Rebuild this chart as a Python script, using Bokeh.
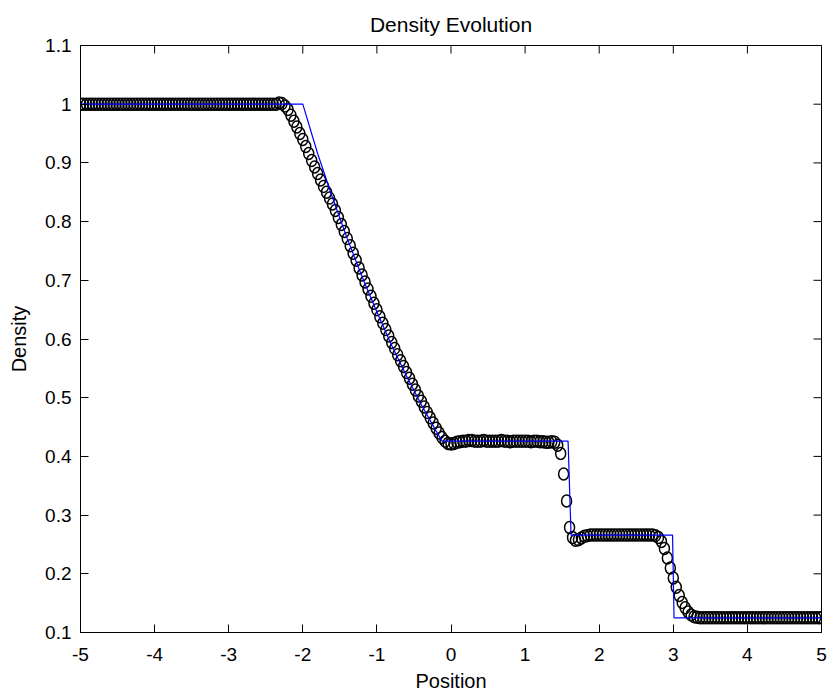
from bokeh.plotting import figure
from bokeh.models import Range1d, FixedTicker, CustomJSTickFormatter, ColumnDataSource
from bokeh.embed import file_html
from bokeh.resources import INLINE
import math

# numerical solution (circles)
pos_x = [
    -5.00, -4.96, -4.92, -4.88, -4.84, -4.80, -4.76, -4.72, -4.68, -4.64,
    -4.60, -4.56, -4.52, -4.48, -4.44, -4.40, -4.36, -4.32, -4.28, -4.24,
    -4.20, -4.16, -4.12, -4.08, -4.04, -4.00, -3.96, -3.92, -3.88, -3.84,
    -3.80, -3.76, -3.72, -3.68, -3.64, -3.60, -3.56, -3.52, -3.48, -3.44,
    -3.40, -3.36, -3.32, -3.28, -3.24, -3.20, -3.16, -3.12, -3.08, -3.04,
    -3.00, -2.96, -2.92, -2.88, -2.84, -2.80, -2.76, -2.72, -2.68, -2.64,
    -2.60, -2.56, -2.52, -2.48, -2.44, -2.40, -2.36, -2.32, -2.28, -2.24,
    -2.20, -2.16, -2.12, -2.08, -2.04, -2.00, -1.96, -1.92, -1.88, -1.84,
    -1.80, -1.76, -1.72, -1.68, -1.64, -1.60, -1.56, -1.52, -1.48, -1.44,
    -1.40, -1.36, -1.32, -1.28, -1.24, -1.20, -1.16, -1.12, -1.08, -1.04,
    -1.00, -0.96, -0.92, -0.88, -0.84, -0.80, -0.76, -0.72, -0.68, -0.64,
    -0.60, -0.56, -0.52, -0.48, -0.44, -0.40, -0.36, -0.32, -0.28, -0.24,
    -0.20, -0.16, -0.12, -0.08, -0.04, 0.00, 0.04, 0.08, 0.12, 0.16,
    0.20, 0.24, 0.28, 0.32, 0.36, 0.40, 0.44, 0.48, 0.52, 0.56,
    0.60, 0.64, 0.68, 0.72, 0.76, 0.80, 0.84, 0.88, 0.92, 0.96,
    1.00, 1.04, 1.08, 1.12, 1.16, 1.20, 1.24, 1.28, 1.32, 1.36,
    1.40, 1.44, 1.48, 1.52, 1.56, 1.60, 1.64, 1.68, 1.72, 1.76,
    1.80, 1.84, 1.88, 1.92, 1.96, 2.00, 2.04, 2.08, 2.12, 2.16,
    2.20, 2.24, 2.28, 2.32, 2.36, 2.40, 2.44, 2.48, 2.52, 2.56,
    2.60, 2.64, 2.68, 2.72, 2.76, 2.80, 2.84, 2.88, 2.92, 2.96,
    3.00, 3.04, 3.08, 3.12, 3.16, 3.20, 3.24, 3.28, 3.32, 3.36,
    3.40, 3.44, 3.48, 3.52, 3.56, 3.60, 3.64, 3.68, 3.72, 3.76,
    3.80, 3.84, 3.88, 3.92, 3.96, 4.00, 4.04, 4.08, 4.12, 4.16,
    4.20, 4.24, 4.28, 4.32, 4.36, 4.40, 4.44, 4.48, 4.52, 4.56,
    4.60, 4.64, 4.68, 4.72, 4.76, 4.80, 4.84, 4.88, 4.92, 4.96,
    5.00,
]
density = [
    1.0, 1.0, 1.0, 1.0, 1.0, 1.0, 1.0, 1.0, 1.0, 1.0,
    1.0, 1.0, 1.0, 1.0, 1.0, 1.0, 1.0, 1.0, 1.0, 1.0,
    1.0, 1.0, 1.0, 1.0, 1.0, 1.0, 1.0, 1.0, 1.0, 1.0,
    1.0, 1.0, 1.0, 1.0, 1.0, 1.0, 1.0, 1.0, 1.0, 1.0,
    1.0, 1.0, 1.0, 1.0, 1.0, 1.0, 1.0, 1.0, 1.0, 1.0,
    1.0, 1.0, 1.0, 1.0, 1.0, 1.0, 1.0, 1.0, 1.0, 1.0,
    1.0, 1.0, 1.0, 1.0, 1.0, 1.0, 1.0, 1.002, 1.001, 0.997,
    0.991, 0.981, 0.971, 0.961, 0.950, 0.940, 0.928, 0.916, 0.904, 0.893,
    0.882, 0.871, 0.860, 0.850, 0.840, 0.830, 0.819, 0.807, 0.795, 0.783,
    0.771, 0.759, 0.746, 0.734, 0.721, 0.709, 0.697, 0.685, 0.673, 0.661,
    0.650, 0.638, 0.627, 0.616, 0.605, 0.594, 0.584, 0.573, 0.563, 0.553,
    0.543, 0.533, 0.523, 0.513, 0.503, 0.494, 0.484, 0.475, 0.466, 0.457,
    0.448, 0.440, 0.432, 0.426, 0.422, 0.421, 0.422, 0.424, 0.425, 0.426,
    0.426, 0.427, 0.427, 0.426, 0.426, 0.426, 0.427, 0.426, 0.426, 0.426,
    0.426, 0.426, 0.427, 0.426, 0.426, 0.425, 0.426, 0.426, 0.426, 0.426,
    0.426, 0.426, 0.425, 0.426, 0.426, 0.425, 0.425, 0.424, 0.424, 0.425,
    0.424, 0.419, 0.405, 0.370, 0.324, 0.279, 0.262, 0.257, 0.258, 0.261,
    0.264, 0.265, 0.266, 0.266, 0.266, 0.266, 0.266, 0.266, 0.266, 0.266,
    0.266, 0.266, 0.266, 0.266, 0.266, 0.266, 0.266, 0.266, 0.266, 0.266,
    0.266, 0.266, 0.266, 0.266, 0.265, 0.262, 0.255, 0.243, 0.227, 0.210,
    0.193, 0.177, 0.163, 0.151, 0.142, 0.135, 0.130, 0.127, 0.126, 0.125,
    0.125, 0.125, 0.125, 0.125, 0.125, 0.125, 0.125, 0.125, 0.125, 0.125,
    0.125, 0.125, 0.125, 0.125, 0.125, 0.125, 0.125, 0.125, 0.125, 0.125,
    0.125, 0.125, 0.125, 0.125, 0.125, 0.125, 0.125, 0.125, 0.125, 0.125,
    0.125, 0.125, 0.125, 0.125, 0.125, 0.125, 0.125, 0.125, 0.125, 0.125,
    0.125,
]

# exact solution (blue line)
exact_x = [-5.0, -2.0, -1.8, -1.6, -1.4, -1.2, -1.0, -0.8, -0.6, -0.4, -0.2,
           -0.12, 1.58, 1.62, 2.99, 3.01, 5.0]
exact_rho = [1.0, 1.0, 0.916, 0.841, 0.771, 0.706, 0.646, 0.589, 0.537, 0.488,
             0.443, 0.426, 0.426, 0.266, 0.266, 0.125, 0.125]

x_ticks = [-5, -4, -3, -2, -1, 0, 1, 2, 3, 4, 5]
y_ticks = [0.1, 0.2, 0.3, 0.4, 0.5, 0.6, 0.7, 0.8, 0.9, 1.0, 1.1]
x_lo, x_hi = -5, 5
y_lo, y_hi = 0.1, 1.1

FONT = "Liberation Sans"

p = figure(width=827, height=698, output_backend="svg", toolbar_location=None,
           x_range=Range1d(x_lo, x_hi), y_range=Range1d(y_lo, y_hi),
           min_border_left=80, min_border_right=6, min_border_top=45,
           min_border_bottom=66)
p.grid.visible = False
p.outline_line_color = "black"
p.outline_line_width = 1
p.background_fill_color = "white"
p.border_fill_color = "white"

p.title.text = "Density Evolution"
p.title.align = "center"
p.title.text_font = FONT
p.title.text_font_size = "21px"
p.title.text_font_style = "normal"
p.title.text_color = "black"
p.title.standoff = 20

fmt_x = CustomJSTickFormatter(code="return Math.round(tick).toString();")
fmt_y = CustomJSTickFormatter(code="return (Math.round(tick*10)/10).toString();")


def style_axis(ax, ticks, fmt):
    ax.ticker = FixedTicker(ticks=ticks)
    ax.formatter = fmt
    ax.major_tick_in = 8
    ax.major_tick_out = 0
    ax.minor_tick_in = 0
    ax.minor_tick_out = 0
    ax.axis_line_color = "black"
    ax.axis_line_width = 1
    ax.major_tick_line_color = "black"
    ax.major_label_text_font = FONT
    ax.major_label_text_font_size = "19px"
    ax.major_label_text_color = "black"
    ax.axis_label_text_font = FONT
    ax.axis_label_text_font_style = "normal"
    ax.axis_label_text_color = "black"
    ax.axis_label_text_font_size = "20px"


xa = p.xaxis[0]
ya = p.yaxis[0]
style_axis(xa, x_ticks, fmt_x)
style_axis(ya, y_ticks, fmt_y)
xa.axis_label = "Position"
xa.major_label_standoff = 15
xa.axis_label_standoff = 6
ya.axis_label = "Density"
ya.major_label_standoff = 9
ya.axis_label_standoff = 12

# inward ticks on the top and right edges of the box (clipped to the frame)
top_src = ColumnDataSource(dict(x=x_ticks, y=[y_hi] * len(x_ticks)))
right_src = ColumnDataSource(dict(x=[x_hi] * len(y_ticks), y=y_ticks))
p.scatter("x", "y", source=top_src, marker="dash", size=16, angle=math.pi / 2,
          line_color="black", line_width=1)
p.scatter("x", "y", source=right_src, marker="dash", size=16,
          line_color="black", line_width=1)

p.ellipse(x=pos_x, y=density, width=10, height=12, width_units="screen",
          height_units="screen", fill_color=None, line_color="black",
          line_width=1.5)
p.line(exact_x, exact_rho, line_color="#0000ff", line_width=1.2)

open("out.html", "w").write(file_html(p, INLINE))
